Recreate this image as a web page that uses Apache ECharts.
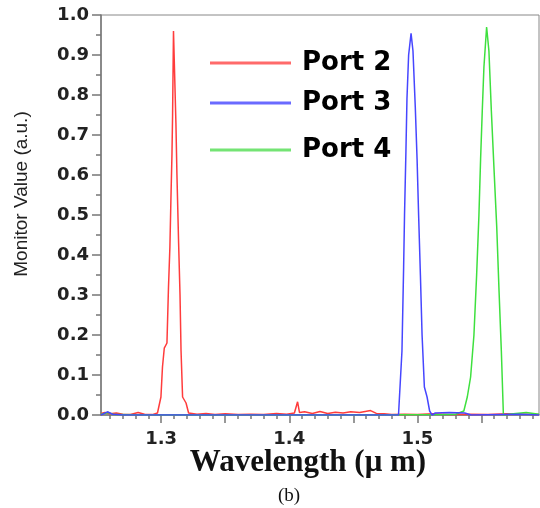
<!DOCTYPE html>
<html>
<head>
<meta charset="utf-8">
<script src="https://cdn.jsdelivr.net/npm/echarts@6/dist/echarts.min.js"></script>
<style>
html, body { margin: 0; padding: 0; background: #fff; }
#chart { width: 540px; height: 508px; }
</style>
</head>
<body>
<div id="chart"></div>
<script>
// wavelength (um), monitor value (a.u.)
var port2 = [
    [1.253, 0.004], [1.256, 0.006], [1.260, 0.003], [1.265, 0.005], [1.270, 0.002],
    [1.276, 0.001], [1.282, 0.006], [1.287, 0.002], [1.293, 0.001], [1.2971, 0.005],
    [1.2998, 0.045], [1.3010, 0.12], [1.3024, 0.167], [1.3045, 0.18], [1.3057, 0.32],
    [1.3068, 0.42], [1.3076, 0.54], [1.3084, 0.65], [1.3089, 0.75], [1.3096, 0.96],
    [1.3102, 0.962], [1.3110, 0.96], [1.3115, 0.73], [1.3123, 0.60], [1.3136, 0.43],
    [1.3147, 0.30], [1.3155, 0.16], [1.3167, 0.045], [1.3194, 0.03], [1.3214, 0.005],
    [1.328, 0.002], [1.335, 0.004], [1.342, 0.001], [1.350, 0.003], [1.360, 0.001],
    [1.370, 0.002], [1.380, 0.001], [1.390, 0.004], [1.398, 0.002], [1.404, 0.005],
    [1.4065, 0.033], [1.408, 0.006], [1.412, 0.008], [1.418, 0.004], [1.424, 0.009],
    [1.430, 0.004], [1.436, 0.007], [1.442, 0.005], [1.448, 0.008], [1.455, 0.006],
    [1.4635, 0.011], [1.468, 0.004], [1.474, 0.003], [1.480, 0.001], [1.490, 0.002],
    [1.500, 0.001], [1.512, 0.003], [1.525, 0.001], [1.540, 0.002], [1.555, 0.001],
    [1.570, 0.003], [1.585, 0.002], [1.595, 0.001]
];
var port3 = [
    [1.253, 0.0], [1.258, 0.008], [1.262, 0.002], [1.270, 0.0], [1.400, 0.0],
    [1.4853, 0.0], [1.4880, 0.16], [1.4893, 0.37], [1.4900, 0.50], [1.4911, 0.66],
    [1.4919, 0.79], [1.4932, 0.90], [1.4951, 0.954], [1.4966, 0.91], [1.4984, 0.77],
    [1.4998, 0.64], [1.5010, 0.50], [1.5024, 0.35], [1.5037, 0.20], [1.5055, 0.07],
    [1.5076, 0.045], [1.5096, 0.01], [1.5115, 0.0], [1.514, 0.005], [1.525, 0.006],
    [1.537, 0.005], [1.542, 0.0], [1.580, 0.002], [1.595, 0.0]
];
var port4 = [
    [1.253, 0.002], [1.259, 0.006], [1.263, 0.001], [1.300, 0.0], [1.450, 0.0],
    [1.520, 0.001], [1.530, 0.002], [1.5363, 0.01], [1.5390, 0.045], [1.5416, 0.095],
    [1.5442, 0.20], [1.5463, 0.35], [1.5481, 0.50], [1.5494, 0.64], [1.5507, 0.76],
    [1.5520, 0.87], [1.5541, 0.97], [1.5559, 0.91], [1.5578, 0.76], [1.5598, 0.62],
    [1.5620, 0.47], [1.5638, 0.31], [1.5656, 0.16], [1.5672, 0.0], [1.575, 0.003],
    [1.585, 0.006], [1.595, 0.002]
];
var seriesNames = ['Port 2', 'Port 3', 'Port 4'];
var xLabelValues = [1.3, 1.4, 1.5];
var xMajorTicks = [1.3, 1.35, 1.4, 1.45, 1.5, 1.55];
var xMinorTicks = [];
for (var t = 126; t <= 159; t++) xMinorTicks.push(t / 100);

var colors = ['#ff3c3c', '#4646ff', '#3ee03e'];
var legendColors = ['#ff6a6a', '#6a6aff', '#74e474'];
var tickFont = { fontFamily: 'DejaVu Sans', fontWeight: 'bold', fontSize: 18, color: '#222' };

var chart = echarts.init(document.getElementById('chart'));
var legendBase = {
    orient: 'horizontal',
    icon: 'rect',
    itemWidth: 81,
    itemHeight: 3,
    textStyle: {
        fontFamily: 'DejaVu Sans', fontWeight: 'bold', fontSize: 26, color: '#000',
        padding: [0, 0, 0, 6]
    }
};
function legendAt(i, top) {
    return Object.assign({
        data: [{ name: seriesNames[i], itemStyle: { color: legendColors[i] } }],
        left: 205,
        top: top
    }, legendBase);
}
var option = {
    animation: false,
    color: colors,
    grid: { left: 101, right: 1, top: 15, bottom: 93, show: true, borderColor: '#888', borderWidth: 1 },
    legend: [legendAt(0, 45), legendAt(1, 85), legendAt(2, 132)],
    xAxis: [
        {
            type: 'value',
            min: 1.253,
            max: 1.595,
            name: 'Wavelength (\u03bc m)',
            nameLocation: 'middle',
            nameGap: 32,
            nameMoveOverlap: false,
            nameTextStyle: {
                fontFamily: 'Liberation Serif', fontWeight: 'bold', fontSize: 31, color: '#111',
                padding: [0, 24, 0, 0]
            },
            axisLine: { lineStyle: { color: '#777', width: 1.5 } },
            axisTick: { customValues: xMajorTicks, length: 8, lineStyle: { color: '#777', width: 1.5 } },
            axisLabel: Object.assign({ customValues: xLabelValues, margin: 15,
                formatter: function (v) { return v.toFixed(1); } }, tickFont),
            splitLine: { show: false }
        },
        {
            type: 'value',
            min: 1.253,
            max: 1.595,
            position: 'bottom',
            axisLine: { show: false },
            axisTick: { customValues: xMinorTicks, length: 4, lineStyle: { color: '#777', width: 1.5 } },
            axisLabel: { show: false },
            splitLine: { show: false }
        }
    ],
    yAxis: {
        type: 'value',
        min: 0,
        max: 1,
        interval: 0.1,
        name: 'Monitor Value (a.u.)',
        nameLocation: 'middle',
        nameGap: 70,
        nameTextStyle: {
            fontFamily: 'Liberation Sans', fontSize: 19, color: '#222',
            padding: [0, 0, 0, 42]
        },
        axisLine: { show: true, lineStyle: { color: '#777', width: 1.5 } },
        axisTick: { show: true, length: 9, lineStyle: { color: '#777', width: 1.5 } },
        minorTick: { show: true, splitNumber: 2, length: 5, lineStyle: { color: '#777', width: 1.5 } },
        axisLabel: Object.assign({ margin: 12,
            formatter: function (v) { return v.toFixed(1); } }, tickFont),
        splitLine: { show: false }
    },
    graphic: [
        {
            type: 'text',
            left: 278,
            top: 487,
            style: { text: '(b)', font: '19px "Liberation Serif"', fill: '#111' }
        }
    ],
    series: [
        { name: seriesNames[0], type: 'line', xAxisIndex: 0, symbol: 'none', data: port2,
          lineStyle: { width: 1.5 } },
        { name: seriesNames[2], type: 'line', xAxisIndex: 0, symbol: 'none', data: port4,
          lineStyle: { width: 1.5, color: colors[2] }, itemStyle: { color: colors[2] } },
        { name: seriesNames[1], type: 'line', xAxisIndex: 0, symbol: 'none', data: port3,
          lineStyle: { width: 1.5, color: colors[1] }, itemStyle: { color: colors[1] } }
    ]
};
chart.setOption(option);
</script>
</body>
</html>
